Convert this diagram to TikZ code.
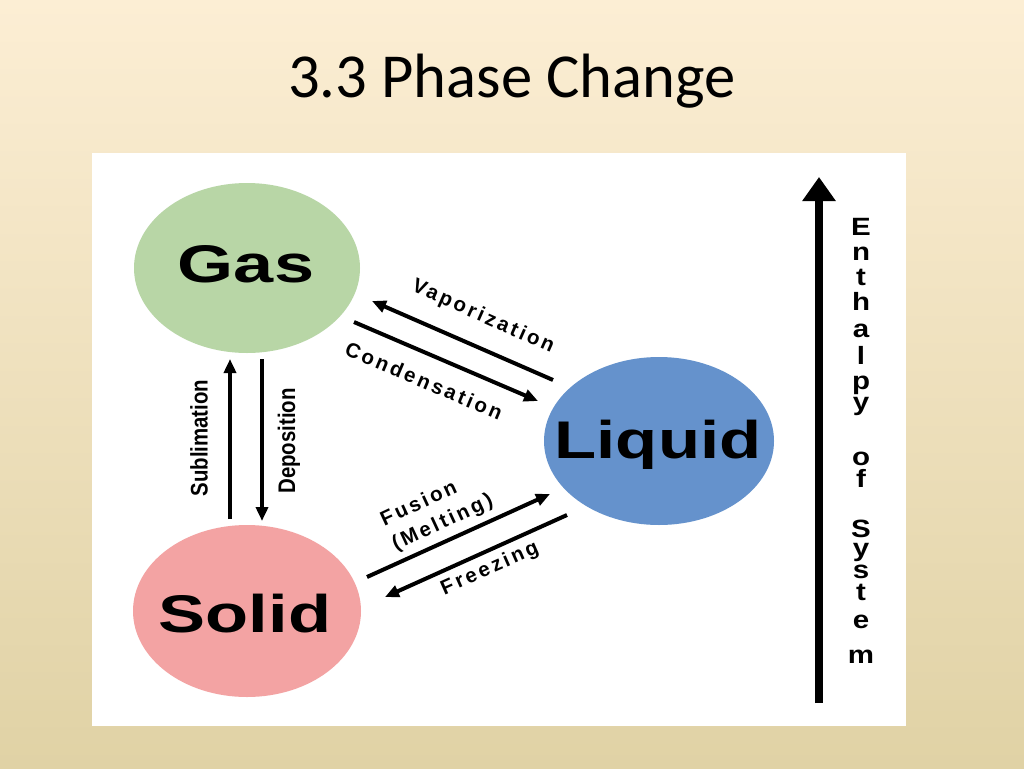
\documentclass[tikz,border=0pt]{standalone}
\usepackage{fontspec}
\setmainfont{Carlito}
\newfontfamily\bigfont{Liberation Sans}
\newfontfamily\lblfont[LetterSpace=14]{Liberation Sans}
\usetikzlibrary{shapes.geometric,arrows.meta}
\definecolor{bgtop}{RGB}{252,238,212}
\definecolor{bgmid}{RGB}{247,231,198}
\definecolor{bgbot}{RGB}{224,210,165}
\definecolor{gasfill}{RGB}{184,214,166}
\definecolor{solidfill}{RGB}{243,163,163}
\definecolor{liqfill}{RGB}{101,146,204}
\tikzset{
  phase/.style={ellipse, minimum width=226pt, minimum height=170pt, inner sep=0pt, draw=none},
  bigword/.style={anchor=base, inner sep=0pt, font=\bigfont\bfseries\fontsize{53}{60}\selectfont},
  lbl/.style={inner sep=0pt, font=\lblfont\bfseries\fontsize{20.5}{27}\selectfont},
  vlbl/.style={inner sep=0pt, rotate=90, font=\bigfont\bfseries\fontsize{24}{28}\selectfont},
  vlet/.style={anchor=base, inner sep=0pt, font=\bigfont\bfseries\fontsize{25}{28}\selectfont},
  arr/.style={line width=4pt, -{Triangle[length=14pt,width=12pt]}},
  bigarr/.style={line width=7.5pt, -{Triangle[length=24pt,width=32pt]}}
}
\begin{document}
\begin{tikzpicture}[x=1pt,y=-1pt]
\useasboundingbox (0,0) rectangle (1024,768);
\shade[top color=bgtop, middle color=bgmid, bottom color=bgbot] (0,0) rectangle (1024,768);
\fill[white] (92,153) rectangle (906,726);

\node[anchor=base, inner sep=0pt, font=\fontsize{62.6}{70}\selectfont] (title) at (512,97) {3.3 Phase Change};

% phases
\node[phase, fill=gasfill] (gas) at (247,268) {};
\node[phase, fill=solidfill, minimum width=228pt, minimum height=172pt] (solid) at (247,611) {};
\node[phase, fill=liqfill, minimum width=230pt, minimum height=168pt] (liquid) at (659,441) {};
\node[bigword] (gastext) at (246,282) {\scalebox{1.36}[1]{Gas}};
\node[bigword] (solidtext) at (245,632) {\scalebox{1.33}[1]{Solid}};
\node[bigword] (liqtext) at (658,458) {\scalebox{1.3}[1]{Liquid}};

% arrow end points
\coordinate (vapA) at (553,380);
\coordinate (vapB) at (372,301);
\coordinate (conA) at (354,322);
\coordinate (conB) at (538,401);
\coordinate (fusA) at (367,577);
\coordinate (fusB) at (550,494);
\coordinate (frzA) at (567,515);
\coordinate (frzB) at (385,597);
\coordinate (subA) at (230,519);
\coordinate (subB) at (230,359);
\coordinate (depA) at (262,359);
\coordinate (depB) at (262,521);
\coordinate (entA) at (819,703);
\coordinate (entB) at (819,177);

\draw[arr] (vapA) -- (vapB);
\draw[arr] (conA) -- (conB);
\draw[arr] (fusA) -- (fusB);
\draw[arr] (frzA) -- (frzB);
\draw[arr] (subA) -- (subB);
\draw[arr] (depA) -- (depB);
\draw[bigarr] (entA) -- (entB);

% labels
\node[lbl, rotate=-24] (vaptext) at (483,317) {Vaporization};
\node[lbl, rotate=-23] (context) at (424,381) {Condensation};
\node[lbl, rotate=25, align=left] (fustext) at (437,511) {Fusion\\(Melting)};
\node[lbl, rotate=24] (frztext) at (490,569) {Freezing};
\node[vlbl] (subtext) at (199,438) {\scalebox{0.85}[1]{Sublimation}};
\node[vlbl] (deptext) at (289,441) {\scalebox{0.85}[1]{Deposition}};

% enthalpy letters
\foreach \ch/\yy [count=\i] in {E/235,n/260,t/285,h/310,a/337,l/364,p/389,y/410,o/465,f/487,S/537,y/556,s/578,t/600,e/628,m/663}{
  \node[vlet] (ent\i) at (861,\yy) {\scalebox{1.18}[1]{\ch}};
}
\end{tikzpicture}
\end{document}
